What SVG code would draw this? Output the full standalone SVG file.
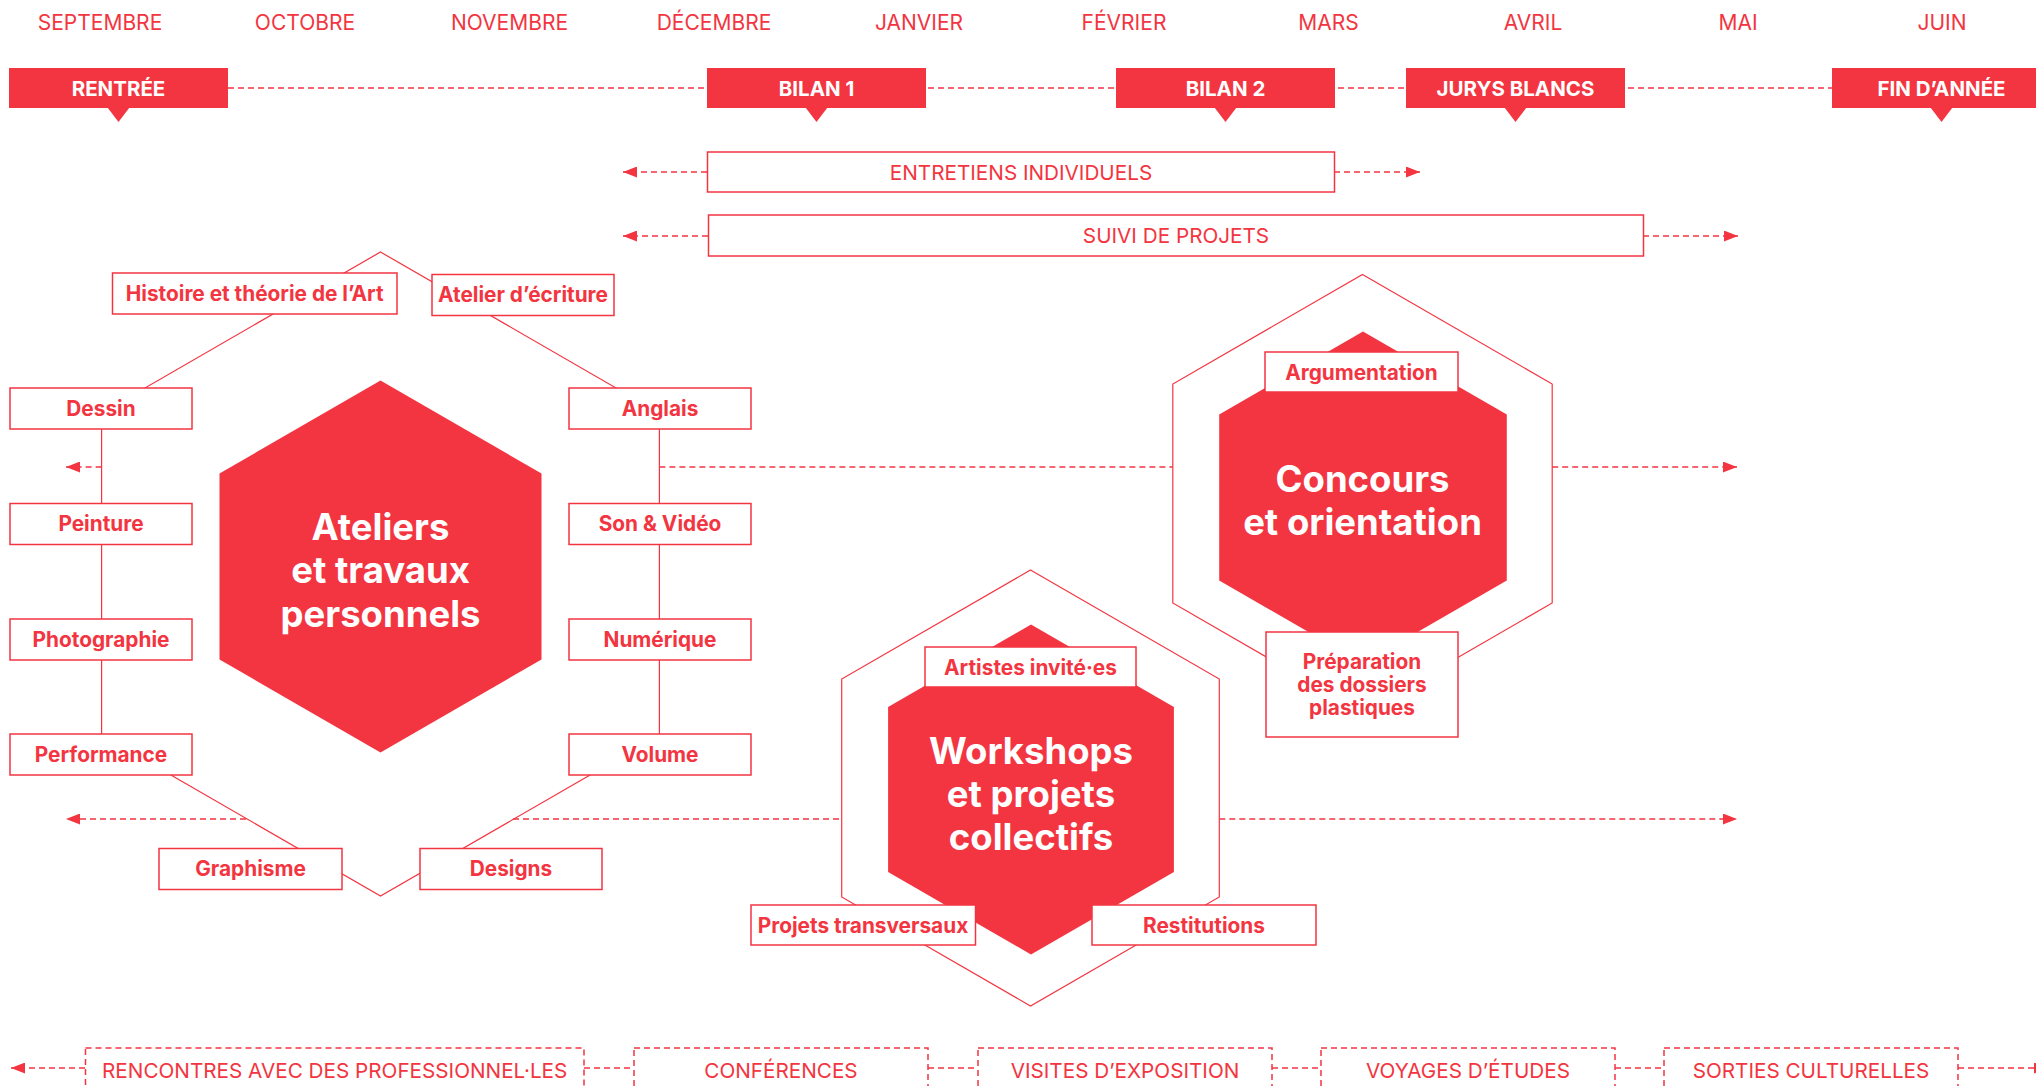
<svg xmlns="http://www.w3.org/2000/svg" width="2036" height="1086" viewBox="0 0 2036 1086">
<defs>
<style>
text{font-family:Inter,"Noto Sans","Liberation Sans",sans-serif;text-anchor:middle}
.mon{font-size:21px;fill:#F33541}
.ms rect,.ms polygon{fill:#F33541}
.ms text{font-size:20.5px;font-weight:700;fill:#fff}
.dash{stroke:#F33541;stroke-width:1.5;stroke-dasharray:6 4;fill:none}
.hexo{stroke:#F33541;stroke-width:1.2;fill:none}
.hexf{fill:#F33541}
.box rect{fill:#fff;stroke:#F33541;stroke-width:1.5}
.box text{font-size:20.8px;font-weight:700;fill:#F33541}
.bar rect{fill:#fff;stroke:#F33541;stroke-width:1.5}
.bar text{font-size:20.7px;fill:#F33541}
.big{font-size:36.5px;font-weight:700;fill:#fff}
.evt rect{fill:#fff;stroke:#F33541;stroke-width:1.5;stroke-dasharray:6 4}
.evt text{font-size:20.7px;fill:#F33541}
</style>
<marker id="arr" viewBox="0 0 14 11" refX="14" refY="5.5" markerWidth="14" markerHeight="11" markerUnits="userSpaceOnUse" orient="auto"><path d="M0,0 L14,5.5 L0,11 Z" fill="#F33541"/></marker>
</defs>
<rect width="2036" height="1086" fill="#fff"/>

<g id="months">
<text class="mon" x="100" y="29.5">SEPTEMBRE</text>
<text class="mon" x="305" y="29.5">OCTOBRE</text>
<text class="mon" x="509.5" y="29.5">NOVEMBRE</text>
<text class="mon" x="714" y="29.5">DÉCEMBRE</text>
<text class="mon" x="919" y="29.5">JANVIER</text>
<text class="mon" x="1124" y="29.5">FÉVRIER</text>
<text class="mon" x="1328.5" y="29.5">MARS</text>
<text class="mon" x="1533" y="29.5">AVRIL</text>
<text class="mon" x="1738" y="29.5">MAI</text>
<text class="mon" x="1942" y="29.5">JUIN</text>
</g>

<g id="connectors">
<line class="dash" x1="228" y1="88" x2="1832" y2="88"/>
<line class="dash" x1="707" y1="172" x2="623" y2="172" marker-end="url(#arr)"/>
<line class="dash" x1="1334" y1="172" x2="1420" y2="172" marker-end="url(#arr)"/>
<line class="dash" x1="708" y1="236" x2="623" y2="236" marker-end="url(#arr)"/>
<line class="dash" x1="1643" y1="236" x2="1738" y2="236" marker-end="url(#arr)"/>
<line class="dash" x1="101.6" y1="467" x2="66" y2="467" marker-end="url(#arr)"/>
<line class="dash" x1="659.4" y1="467" x2="1172.8" y2="467"/>
<line class="dash" x1="1552.2" y1="467" x2="1737" y2="467" marker-end="url(#arr)"/>
<line class="dash" x1="246" y1="819" x2="66" y2="819" marker-end="url(#arr)"/>
<line class="dash" x1="513" y1="819" x2="841.7" y2="819"/>
<line class="dash" x1="1219.3" y1="819" x2="1737" y2="819" marker-end="url(#arr)"/>
<line class="dash" x1="85" y1="1068" x2="11" y2="1068" marker-end="url(#arr)"/>
<line class="dash" x1="584" y1="1068" x2="634" y2="1068"/>
<line class="dash" x1="928" y1="1068" x2="978" y2="1068"/>
<line class="dash" x1="1272" y1="1068" x2="1321" y2="1068"/>
<line class="dash" x1="1615" y1="1068" x2="1664" y2="1068"/>
<line class="dash" x1="1958" y1="1068" x2="2048" y2="1068" marker-end="url(#arr)"/>
<polygon class="hexo" points="380.5,252 659.4,413 659.4,735 380.5,896 101.6,735 101.6,413"/>
</g>

<g id="milestones" class="ms">
<g id="rentree"><rect x="9" y="68" width="219" height="40"/><polygon points="107.5,107.5 129.5,107.5 118.5,122"/><text x="118.5" y="95.5">RENTRÉE</text></g>
<g id="bilan1"><rect x="707" y="68" width="219" height="40"/><polygon points="805.5,107.5 827.5,107.5 816.5,122"/><text x="816.5" y="95.5">BILAN 1</text></g>
<g id="bilan2"><rect x="1116" y="68" width="219" height="40"/><polygon points="1214.5,107.5 1236.5,107.5 1225.5,122"/><text x="1225.5" y="95.5">BILAN 2</text></g>
<g id="jurys"><rect x="1406" y="68" width="219" height="40"/><polygon points="1504.5,107.5 1526.5,107.5 1515.5,122"/><text x="1515.5" y="95.5">JURYS BLANCS</text></g>
<g id="fin"><rect x="1832" y="68" width="219" height="40"/><polygon points="1930.5,107.5 1952.5,107.5 1941.5,122"/><text x="1941.5" y="95.5">FIN D’ANNÉE</text></g>
</g>

<g id="entretiens" class="bar"><rect x="707.5" y="152" width="627" height="40"/><text x="1021" y="179.5">ENTRETIENS INDIVIDUELS</text></g>
<g id="suivi" class="bar"><rect x="708.5" y="215" width="935" height="41"/><text x="1176" y="243">SUIVI DE PROJETS</text></g>

<g id="ateliers">
<polygon class="hexf" points="380.5,380.5 541.5,473.5 541.5,659.5 380.5,752.5 219.5,659.5 219.5,473.5"/>
<text class="big" x="380.5" y="540">Ateliers</text>
<text class="big" x="380.5" y="583">et travaux</text>
<text class="big" x="380.5" y="626.5">personnels</text>
</g>

<g id="concours">
<polygon class="hexo" points="1362.5,274.5 1552.2,384 1552.2,603 1362.5,712.5 1172.8,603 1172.8,384"/>
<polygon class="hexf" points="1363,331.5 1506.8,414.5 1506.8,580.5 1363,663.5 1219.2,580.5 1219.2,414.5"/>
<text class="big" x="1362.5" y="491.5">Concours</text>
<text class="big" x="1362.5" y="535">et orientation</text>
</g>

<g id="workshops">
<polygon class="hexo" points="1030.5,570 1219.3,679 1219.3,897 1030.5,1006 841.7,897 841.7,679"/>
<polygon class="hexf" points="1031,624.5 1173.9,707 1173.9,872 1031,954.5 888.1,872 888.1,707"/>
<text class="big" x="1031" y="763.5">Workshops</text>
<text class="big" x="1031" y="806.5">et projets</text>
<text class="big" x="1031" y="849.5">collectifs</text>
</g>

<g class="box">
<g id="histoire"><rect x="112.5" y="273" width="284.5" height="41"/><text x="254.7" y="300.5">Histoire et théorie de l’Art</text></g>
<g id="ecriture"><rect x="432" y="274.5" width="182" height="41"/><text x="523" y="302">Atelier d’écriture</text></g>
<g id="dessin"><rect x="10" y="388" width="182" height="41"/><text x="101" y="415.5">Dessin</text></g>
<g id="peinture"><rect x="10" y="503.5" width="182" height="41"/><text x="101" y="531">Peinture</text></g>
<g id="photographie"><rect x="10" y="619" width="182" height="41"/><text x="101" y="646.5">Photographie</text></g>
<g id="performance"><rect x="10" y="734" width="182" height="41"/><text x="101" y="761.5">Performance</text></g>
<g id="anglais"><rect x="569" y="388" width="182" height="41"/><text x="660" y="415.5">Anglais</text></g>
<g id="sonvideo"><rect x="569" y="503.5" width="182" height="41"/><text x="660" y="531">Son &amp; Vidéo</text></g>
<g id="numerique"><rect x="569" y="619" width="182" height="41"/><text x="660" y="646.5">Numérique</text></g>
<g id="volume"><rect x="569" y="734" width="182" height="41"/><text x="660" y="761.5">Volume</text></g>
<g id="graphisme"><rect x="159" y="848.5" width="183" height="41"/><text x="250.5" y="876">Graphisme</text></g>
<g id="designs"><rect x="420" y="848.5" width="182" height="41"/><text x="511" y="876">Designs</text></g>
<g id="argumentation"><rect x="1265" y="352" width="193" height="40"/><text x="1361.5" y="379.5">Argumentation</text></g>
<g id="preparation"><rect x="1266" y="632" width="192" height="105"/><text x="1362" y="668.5">Préparation</text><text x="1362" y="691.5">des dossiers</text><text x="1362" y="714.5">plastiques</text></g>
<g id="artistes"><rect x="925" y="647" width="211" height="40"/><text x="1030.5" y="674.5">Artistes invité·es</text></g>
<g id="transversaux"><rect x="751" y="905" width="224.5" height="40"/><text x="863" y="932.5">Projets transversaux</text></g>
<g id="restitutions"><rect x="1092" y="905" width="224" height="40"/><text x="1204" y="932.5">Restitutions</text></g>
</g>

<g class="evt">
<g id="rencontres"><rect x="85.5" y="1048" width="498.5" height="60"/><text x="334.7" y="1077.5">RENCONTRES AVEC DES PROFESSIONNEL·LES</text></g>
<g id="conferences"><rect x="634" y="1048" width="294" height="60"/><text x="781" y="1077.5">CONFÉRENCES</text></g>
<g id="visites"><rect x="978" y="1048" width="294" height="60"/><text x="1125" y="1077.5">VISITES D’EXPOSITION</text></g>
<g id="voyages"><rect x="1321" y="1048" width="294" height="60"/><text x="1468" y="1077.5">VOYAGES D’ÉTUDES</text></g>
<g id="sorties"><rect x="1664" y="1048" width="294" height="60"/><text x="1811" y="1077.5">SORTIES CULTURELLES</text></g>
</g>
</svg>
